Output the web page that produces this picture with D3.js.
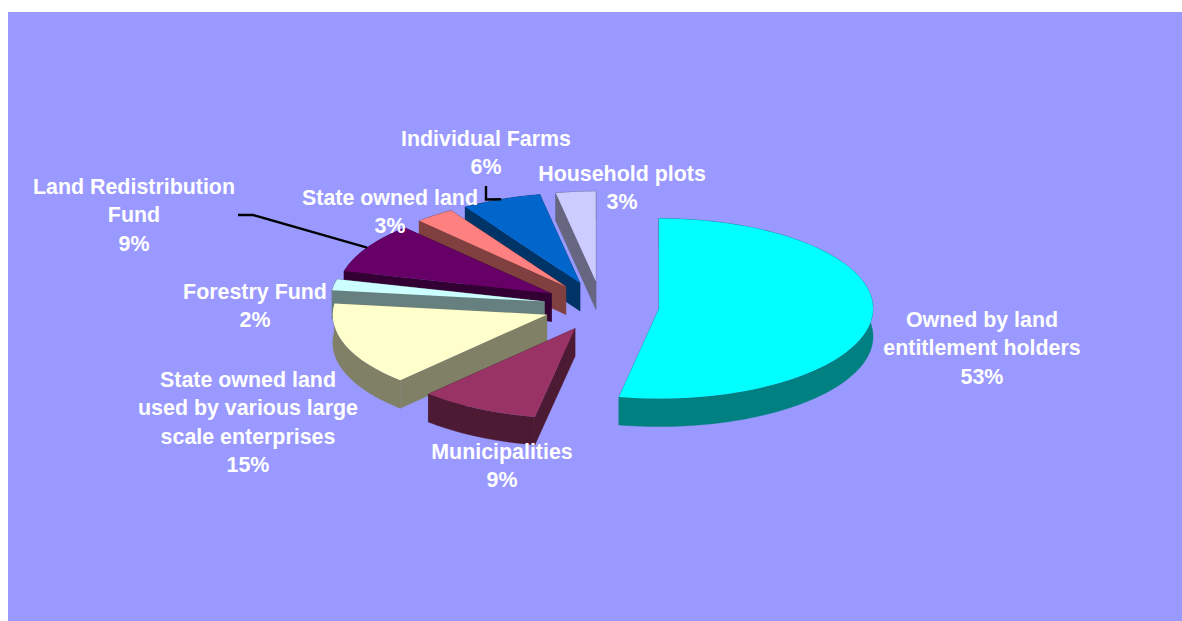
<!DOCTYPE html>
<html>
<head>
<meta charset="utf-8">
<script src="https://cdn.jsdelivr.net/npm/d3@7"></script>
<style>
  html, body { margin: 0; padding: 0; background: #fff; overflow: hidden; }
  svg { display: block; }
  text { font-family: "Liberation Sans", Arial, sans-serif; font-weight: bold; font-size: 21.4px; fill: #fff; text-anchor: middle; }
</style>
</head>
<body>
<svg id="chart" width="1182" height="621"></svg>
<script>
// Land ownership shares, clockwise from twelve o'clock
const categories = [
  ["Owned by land", "entitlement holders"],
  ["Municipalities"],
  ["State owned land", "used by various large", "scale enterprises"],
  ["Forestry Fund"],
  ["Land Redistribution", "Fund"],
  ["State owned land"],
  ["Individual Farms"],
  ["Household plots"]
];
const shares = [53, 9, 15, 2, 9, 3, 6, 3];
const topColors = ["#00FFFF", "#993366", "#FFFFCC", "#CCFFFF", "#660066", "#FF8080", "#0066CC", "#CCCCFF"];
const wallColors = ["#008080", "#4D1A33", "#808066", "#668080", "#330033", "#804040", "#003366", "#666680"];

// Label placement: centre x and first baseline for each category
const labelX = [982, 502, 248, 255, 134, 390, 486, 622];
const labelY = [327, 459, 387, 299, 194, 205, 146, 181];
const lineStep = 28.4;

// Leader lines: which slice, and the label-side points they start from
const leaderSlices = [4, 6];
const leaderStarts = [[[238, 215], [253, 215]], [[486, 186], [486, 199.5]]];

// Pie geometry: tilted ellipse, extrusion depth and explosion distance
const centre = { x: 601.3, y: 306.2 };
const radiusX = 214, radiusY = 90, depth = 28;
const explodeX = 58, explodeY = 25;
const tilt = radiusY / radiusX;

const svg = d3.select("#chart");
svg.append("rect").attr("x", 8).attr("y", 12).attr("width", 1174).attr("height", 609).attr("fill", "#9999FF");

const slices = d3.pie().sort(null).value(d => d)(shares);
const midAngle = s => (s.startAngle + s.endAngle) / 2;
const apexOf = s => ({
  x: centre.x + explodeX * Math.sin(midAngle(s)),
  y: centre.y - explodeY * Math.cos(midAngle(s))
});
const rimPoint = (apex, angle, drop = 0) => [
  apex.x + radiusX * Math.sin(angle),
  apex.y - radiusY * Math.cos(angle) + drop
];

const arcTop = d3.arc().innerRadius(0).outerRadius(radiusX);
const poly = d3.line();

// Back-to-front painting: the last slice in the sweep sits furthest back
const paintOrder = d3.range(slices.length).reverse();
const pieLayer = svg.append("g");

paintOrder.forEach(i => {
  const s = slices[i];
  const apex = apexOf(s);
  const g = pieLayer.append("g");

  // Walls: both radial faces plus the curved rim, all beneath the top face.
  // A thin same-colour stroke closes the seams between neighbouring faces.
  const addWall = pts => g.append("path").attr("d", poly(pts) + "Z")
    .attr("fill", wallColors[i]).attr("stroke", wallColors[i]).attr("stroke-width", 0.4);
  const sweep = d3.range(0, 121).map(k => s.startAngle + (s.endAngle - s.startAngle) * k / 120);
  addWall(sweep.map(a => rimPoint(apex, a))
    .concat(sweep.slice().reverse().map(a => rimPoint(apex, a, depth))));
  [s.startAngle, s.endAngle].forEach(a => {
    addWall([[apex.x, apex.y], rimPoint(apex, a), rimPoint(apex, a, depth), [apex.x, apex.y + depth]]);
  });

  // Top face: a circular d3 arc squashed into the ellipse
  g.append("path")
    .attr("d", arcTop(s))
    .attr("transform", `translate(${apex.x},${apex.y}) scale(1,${tilt})`)
    .attr("fill", topColors[i]);
});

// Leader lines run from the label to the middle of the slice's rim
leaderSlices.forEach((i, n) => {
  const s = slices[i];
  const pts = leaderStarts[n].concat([rimPoint(apexOf(s), midAngle(s))]);
  svg.append("path").attr("d", poly(pts))
    .attr("fill", "none").attr("stroke", "#000").attr("stroke-width", 2.4);
});

// Category names with the percentage as the final line
categories.forEach((lines, i) => {
  const t = svg.append("text").attr("x", labelX[i]).attr("y", labelY[i]);
  lines.concat([shares[i] + "%"]).forEach((line, k) => {
    t.append("tspan").attr("x", labelX[i]).attr("dy", k ? lineStep : 0).text(line);
  });
});
</script>
</body>
</html>
